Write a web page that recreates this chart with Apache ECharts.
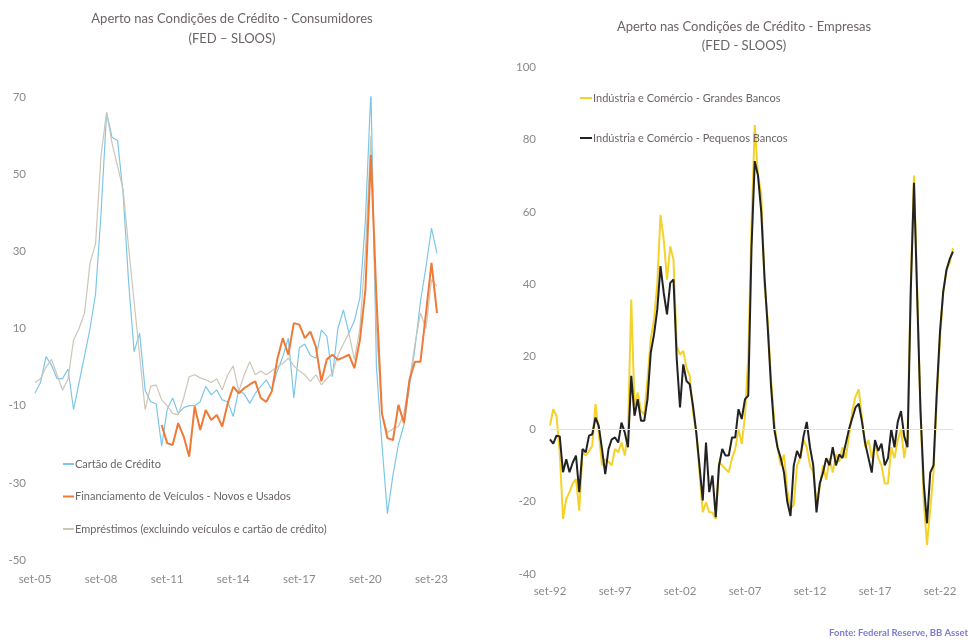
<!DOCTYPE html>
<html>
<head>
<meta charset="utf-8">
<script src="https://cdn.jsdelivr.net/npm/echarts/dist/echarts.min.js"></script>
<style>html,body{margin:0;padding:0;background:#ffffff;}#c{width:973px;height:640px;}</style>
</head>
<body>
<div id="c"></div>
<script>
// ---------- data ----------
const titleLeft = 'Aperto nas Condições de Crédito - Consumidores';
const subLeft = '(FED – SLOOS)';
const titleRight = 'Aperto nas Condições de Crédito - Empresas';
const subRight = '(FED - SLOOS)';
const source = 'Fonte: Federal Reserve, BB Asset';

const monthNames = ['mar', 'jun', 'set', 'dez'];
const leftStart = { year: 2005, q: 2 };   // set-05
const leftCount = 74;
const rightStart = { year: 1992, q: 2 };  // set-92
const rightCount = 125;

const leftNames = ['Cartão de Crédito', 'Financiamento de Veículos - Novos e Usados', 'Empréstimos (excluindo veículos e cartão de crédito)'];
const rightNames = ['Indústria e Comércio - Grandes Bancos', 'Indústria e Comércio - Pequenos Bancos'];

const cartao = [-6.7, -4, 2.7, 0.5, -3, -3, -0.5, -11, -4, 3,
  10, 19, 40, 66, 59.5, 58.7, 45, 22, 4, 8.8,
  -6, -9, -9.5, -20.5, -11, -8, -12, -10.5, -10, -10,
  -9, -5, -7.2, -5.9, -8.5, -9, -12.8, -6, -7, -9.4,
  -6.8, -5, -3.3, -5.9, -1, 2.7, 7.5, -8, 5, 6,
  3, 2.3, 9.6, 8, -2.5, 10, 14.8, 8.8, 12, 18,
  38, 71.8, 0, -20, -38, -28, -20, -15, -5, 5,
  17, 26, 36, 29.5];

const veiculos = [null, null, null, null, null, null, null, null, null, null,
  null, null, null, null, null, null, null, null, null, null,
  null, null, null, -15, -19.7, -20.2, -14.5, -18, -23.2, -10.2,
  -16.3, -11.1, -13.7, -12.4, -15.4, -9.4, -5.1, -6.8, -5.5, -4.5,
  -3.7, -8, -9, -6.3, 2, 7.5, 3.2, 11.4, 11, 7.5,
  9.2, 5.3, -3.7, 2, 3.2, 1.9, 2.5, 3.2, -0.3, 7,
  20, 55, 18, -12, -18.4, -18.9, -9.8, -14.5, -3.3, 1.4,
  1.4, 14, 27, 14];

const emprestimos = [-4, -3, 0, 2, -2, -6, -3, 7, 10, 14,
  27, 32, 55, 66, 58, 52, 46, 31, 17, 3,
  -11, -5, -4.6, -8.5, -10, -12, -12.4, -8, -2.5, -2,
  -2.8, -3.3, -4, -3, -5.9, -2, 0.3, -6.3, -2, 1.4,
  -2, -1, -2, -1, 0, 1, 2.3, 0.3, -1, -2,
  -3.7, -2, -4.6, -3, -1.6, 3, 6, 8.8, 1.9, 10,
  30, 60, 10, -12, -17, -16, -15.4, -12, -3.3, 6,
  14, 10, 22.6, 21];

const grandes = [1, 5.5, 3.7, -6.4, -24.8, -19.3, -17.4, -15, -13.8, -22.5,
  -6.4, -7.3, -6, -4.6, 6.9, -0.9, -10, -8.3, -9, -10,
  -5.5, -6.4, -3.7, -7.3, -0.9, 35.8, 6.4, 10.1, 5, 4,
  13.8, 24.8, 30.3, 40, 59.2, 52.3, 41.3, 50.5, 46.8, 22.9,
  20.6, 21.6, 17, 14.7, 4.6, -0.9, -12, -22.9, -20.2, -22.9,
  -23, -24.8, -9.2, -10, -11, -11.9, -8, -5.5, 0, -4.1,
  3.7, 20, 56, 84, 70, 65, 40, 30, 14, 2,
  -5, -10, -7, -17, -22, -21, -10, -8, -3, -5,
  -10, -12, -20, -16, -10, -14, -8, -12, -7, -9,
  -5, -8, -2, 5, 9, 11, 3, -5, -3, -8,
  -4, -8, -10, -15, -15, -5, -8, -3, 0, -8,
  -2, 40, 70, 38, 5, -20, -32, -22, -12, 8,
  25, 38, 44, 46, 50];

const pequenos = [-2.8, -4, -1.8, -2, -11.9, -8.3, -11.9, -9.2, -7.3, -17.4,
  -5.5, -6.4, -1.8, -1.4, 3.2, 0.9, -5.5, -12.4, -5.5, -2.8,
  -2.3, -3.7, 1.8, -0.9, -5, 14.7, 3.7, 8.3, 2.3, 2.3,
  8.3, 21.1, 26.1, 33, 45, 37.6, 31.7, 40.4, 41.3, 19.3,
  6, 17.9, 13.3, 12.4, 6.4, -0.9, -10.1, -19.7, -3.7, -17.4,
  -12.8, -24.3, -10.1, -5.5, -7.3, -7.3, -2.3, -2.3, 5.5, 2.8,
  8.3, 9.2, 50, 74, 70, 60, 42, 28, 12, 0,
  -5, -8, -12, -20, -24, -10, -6, -8, -2, 2,
  -5, -10, -23, -15, -12, -8, -10, -5, -10, -7,
  -8, -4, 0, 3, 6, 7, 2, -4, -8, -12,
  -3, -6, -4, -10, -8, 0, -5, 2, 5, -2,
  -5, 38, 68, 36, 5, -15, -26, -12, -10, 10,
  27, 38, 44, 47, 49];

// ---------- categories (quarterly labels) ----------
function quarters(start, n) {
  const out = [];
  let y = start.year, q = start.q;
  for (let i = 0; i < n; i++) {
    out.push(monthNames[q] + '-' + String(y % 100).padStart(2, '0'));
    q++; if (q > 3) { q = 0; y++; }
  }
  return out;
}
const leftCats = quarters(leftStart, leftCount);
const rightCats = quarters(rightStart, rightCount);

// ---------- chart ----------
const FONT = 'Lato';
const TXT = '#6b6468';
const AX = '#8a8a8a';
const chart = echarts.init(document.getElementById('c'));

chart.setOption({
  backgroundColor: '#ffffff',
  animation: false,
  textStyle: { fontFamily: FONT },
  grid: [
    { left: 35, right: 536, top: 97, bottom: 80, containLabel: false },
    { left: 550, right: 20, top: 67, bottom: 66, containLabel: false }
  ],
  xAxis: [
    { type: 'category', gridIndex: 0, data: leftCats, boundaryGap: false,
      axisLine: { show: false }, axisTick: { show: false }, splitLine: { show: false },
      axisLabel: { interval: 11, color: AX, fontSize: 11.5, fontFamily: FONT, margin: 13 } },
    { type: 'category', gridIndex: 1, data: rightCats, boundaryGap: false,
      axisLine: { show: false }, axisTick: { show: false }, splitLine: { show: false },
      axisLabel: { interval: 19, color: AX, fontSize: 11.5, fontFamily: FONT, margin: 11 } }
  ],
  yAxis: [
    { type: 'value', gridIndex: 0, min: -50, max: 70, interval: 20,
      axisLine: { show: false }, axisTick: { show: false }, splitLine: { show: false },
      axisLabel: { color: AX, fontSize: 11.5, fontFamily: FONT, margin: 9 } },
    { type: 'value', gridIndex: 1, min: -40, max: 100, interval: 20,
      axisLine: { show: false }, axisTick: { show: false }, splitLine: { show: false },
      axisLabel: { color: AX, fontSize: 11.5, fontFamily: FONT, margin: 14 } }
  ],
  legend: [
    { data: leftNames, orient: 'vertical', left: 58, top: 452, itemGap: 18.5,
      icon: 'rect', itemWidth: 11, itemHeight: 2,
      textStyle: { color: TXT, fontSize: 11, fontFamily: FONT, lineHeight: 14, padding: [0, 0, 0, -4] } },
    { data: rightNames, orient: 'vertical', left: 575, top: 86, itemGap: 26,
      icon: 'rect', itemWidth: 12, itemHeight: 2,
      textStyle: { color: TXT, fontSize: 11, fontFamily: FONT, lineHeight: 14, padding: [0, 0, 0, -4] } }
  ],
  series: [
    { name: leftNames[0], type: 'line', xAxisIndex: 0, yAxisIndex: 0, data: cartao,
      symbol: 'none', z: 2, itemStyle: { color: '#7cc7e8' }, lineStyle: { color: '#7cc7e8', width: 1.2 } },
    { name: leftNames[1], type: 'line', xAxisIndex: 0, yAxisIndex: 0, data: veiculos,
      symbol: 'none', z: 4, connectNulls: false, itemStyle: { color: '#ef7a38' }, lineStyle: { color: '#ef7a38', width: 2 } },
    { name: leftNames[2], type: 'line', xAxisIndex: 0, yAxisIndex: 0, data: emprestimos,
      symbol: 'none', z: 3, itemStyle: { color: '#cdc5b8' }, lineStyle: { color: '#cdc5b8', width: 1.2 } },
    { name: rightNames[0], type: 'line', xAxisIndex: 1, yAxisIndex: 1, data: grandes,
      symbol: 'none', z: 2, itemStyle: { color: '#f4d22a' }, lineStyle: { color: '#f4d22a', width: 2 },
      markLine: { silent: true, symbol: 'none', label: { show: false }, animation: false,
        lineStyle: { color: '#e2e2e2', type: 'solid', width: 1 }, data: [{ yAxis: 0 }] } },
    { name: rightNames[1], type: 'line', xAxisIndex: 1, yAxisIndex: 1, data: pequenos,
      symbol: 'none', z: 3, itemStyle: { color: '#222222' }, lineStyle: { color: '#222222', width: 2 } }
  ],
  graphic: [
    { type: 'text', x: 232, y: 19, style: { text: titleLeft, align: 'center', verticalAlign: 'middle', fontSize: 13, fontFamily: FONT, fill: TXT } },
    { type: 'text', x: 232, y: 39, style: { text: subLeft, align: 'center', verticalAlign: 'middle', fontSize: 13, fontFamily: FONT, fill: TXT } },
    { type: 'text', x: 744, y: 27, style: { text: titleRight, align: 'center', verticalAlign: 'middle', fontSize: 13, fontFamily: FONT, fill: TXT } },
    { type: 'text', x: 744, y: 46, style: { text: subRight, align: 'center', verticalAlign: 'middle', fontSize: 13, fontFamily: FONT, fill: TXT } },
    { type: 'text', x: 968, y: 633, style: { text: source, align: 'right', verticalAlign: 'middle', fontSize: 9.5, fontWeight: 'bold', fontFamily: FONT, fill: '#7b7bd0' } }
  ]
});
</script>
</body>
</html>
